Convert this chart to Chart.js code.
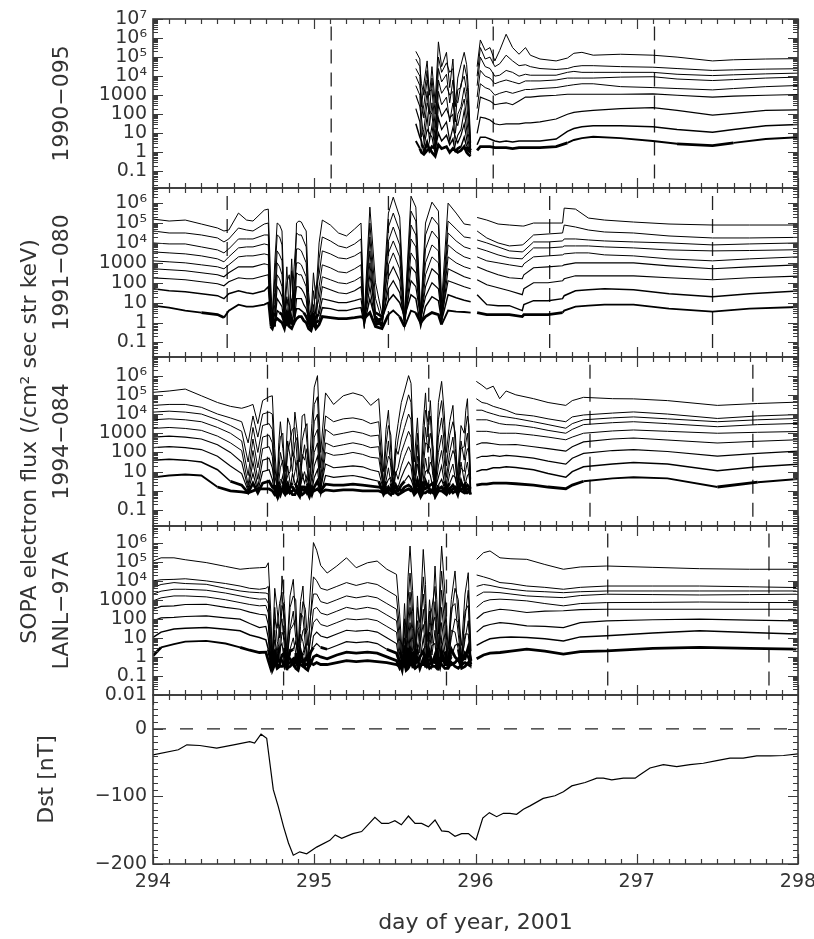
<!DOCTYPE html>
<html>
<head>
<meta charset="utf-8">
<script src="https://cdn.jsdelivr.net/npm/chart.js@4.4.1/dist/chart.umd.min.js"></script>
<style>
  body { margin: 0; background: #fff; }
  #wrap { position: relative; width: 814px; height: 939px; }
  #wrap canvas { position: absolute; left: 0; top: 0; }
</style>
</head>
<body>
<div id="wrap">
  <canvas id="p1" width="814" height="939"></canvas>
  <canvas id="p2" width="814" height="939"></canvas>
  <canvas id="p3" width="814" height="939"></canvas>
  <canvas id="p4" width="814" height="939"></canvas>
  <canvas id="p5" width="814" height="939"></canvas>
</div>
<script>
// ---- data (flux rows are log10 of the 9 energy channels, highest flux first; null = data gap) ----

// 1990-095
const p1Days = [295.63, 295.655, 295.665, 295.68, 295.70, 295.715, 295.73, 295.75, 295.77, 295.79, 295.82, 295.84,
  295.86, 295.875, 295.89, 295.91, 295.93, 295.945, 295.955, 295.97, 295.99,
  296.01, 296.03, 296.06, 296.09, 296.12, 296.15, 296.19, 296.23, 296.27, 296.31, 296.34, 296.40, 296.50, 296.57,
  296.61, 296.66, 296.73, 296.90, 297.10, 297.25, 297.47, 297.60, 297.80, 298.00];
const p1Flux = [
  [5.3, 4.9, 4.4, 4.0, 3.5, 3.0, 2.3, 1.5, 0.6],
  [4.9, 4.5, 4.0, 3.5, 3.0, 2.4, 1.6, 0.8, 0.2],
  [2.4, 3.6, 1.8, 2.8, 0.8, 1.8, 0.3, 0.6, 0.0],
  [3.6, 3.0, 2.5, 1.8, 1.2, 0.6, 0.3, 0.0, -0.1],
  [4.8, 4.3, 3.8, 3.2, 2.6, 1.9, 1.2, 0.5, 0.1],
  [3.0, 2.0, 3.2, 1.4, 2.2, 0.6, 1.0, 0.1, 0.2],
  [4.5, 3.9, 3.3, 2.6, 2.0, 1.4, 0.8, 0.3, 0.0],
  [2.6, 2.0, 1.3, 0.7, 0.3, 0.1, -0.1, 0.2, -0.2],
  [5.8, 5.0, 4.4, 3.8, 3.2, 2.5, 1.8, 1.0, 0.4],
  [4.5, 4.2, 3.7, 3.1, 2.5, 1.9, 1.2, 0.6, 0.2],
  [5.25, 4.7, 4.1, 3.5, 2.9, 2.3, 1.6, 0.9, 0.3],
  [3.4, 4.2, 2.6, 3.0, 1.6, 1.8, 0.6, 0.4, 0.0],
  [4.9, 4.4, 3.8, 3.2, 2.6, 2.0, 1.3, 0.7, 0.2],
  [2.4, 1.6, 2.8, 1.0, 1.8, 0.4, 0.8, 0.0, 0.1],
  [3.9, 3.3, 2.6, 2.0, 1.4, 0.9, 0.5, 0.2, 0.0],
  [4.6, 3.4, 3.6, 2.4, 2.2, 1.2, 0.9, 0.3, 0.1],
  [5.25, 4.6, 4.0, 3.4, 2.8, 2.2, 1.5, 0.8, 0.3],
  [4.6, 4.0, 3.2, 2.6, 1.8, 1.2, 0.7, 0.3, 0.0],
  [3.4, 2.8, 2.2, 1.6, 1.0, 0.6, 0.3, 0.1, -0.1],
  [0.5, 0.3, 0.1, 0.2, 0.0, -0.1, 0.1, 0.0, -0.2],
  null,
  [4.5, 4.0, 3.5, 2.9, 2.3, 1.7, 1.0, 0.4, 0.1],
  [5.9, 5.5, 5.0, 4.3, 3.6, 2.9, 1.85, 0.8, 0.3],
  [5.35, 4.9, 4.5, 4.0, 3.4, 2.8, 1.8, 0.8, 0.3],
  [5.5, 5.0, 4.4, 3.9, 3.3, 2.7, 1.7, 0.7, 0.3],
  [4.8, 4.5, 4.0, 3.6, 3.0, 2.5, 1.5, 0.6, 0.25],
  [5.35, 4.65, 4.05, 3.7, 3.1, 2.55, 1.45, 0.55, 0.25],
  [6.2, 5.1, 4.3, 3.8, 3.2, 2.6, 1.5, 0.6, 0.25],
  [5.5, 4.8, 4.2, 3.7, 3.1, 2.5, 1.5, 0.55, 0.2],
  [5.15, 4.55, 4.0, 3.6, 3.2, 2.7, 1.5, 0.6, 0.25],
  [5.5, 4.6, 4.1, 3.75, 3.3, 2.9, 1.55, 0.6, 0.25],
  [5.1, 4.5, 4.05, 3.75, 3.3, 2.9, 1.55, 0.6, 0.25],
  [4.9, 4.4, 4.05, 3.75, 3.35, 2.95, 1.6, 0.6, 0.25],
  [4.8, 4.35, 4.05, 3.8, 3.4, 3.0, 1.75, 0.7, 0.3],
  [4.95, 4.4, 4.2, 3.9, 3.5, 3.05, 2.0, 1.1, 0.5],
  [5.2, 4.5, 4.25, 3.9, 3.55, 3.05, 2.1, 1.25, 0.65],
  [5.25, 4.55, 4.2, 3.9, 3.6, 3.05, 2.15, 1.35, 0.75],
  [5.1, 4.55, 4.2, 3.9, 3.6, 3.05, 2.2, 1.4, 0.82],
  [5.15, 4.5, 4.2, 3.95, 3.45, 3.05, 2.3, 1.4, 0.75],
  [5.1, 4.47, 4.2, 3.97, 3.4, 3.07, 2.35, 1.35, 0.6],
  [5.0, 4.4, 4.1, 3.85, 3.35, 3.0, 2.2, 1.2, 0.45],
  [4.8, 4.3, 4.03, 3.77, 3.28, 2.9, 1.95, 1.05, 0.35],
  [4.86, 4.33, 4.07, 3.82, 3.35, 2.95, 2.05, 1.2, 0.5],
  [4.9, 4.37, 4.12, 3.9, 3.45, 3.0, 2.2, 1.4, 0.7],
  [4.92, 4.39, 4.16, 3.95, 3.51, 3.04, 2.23, 1.46, 0.79]
];

// 1991-080
const p2Days = [294.0, 294.1, 294.2, 294.3, 294.4, 294.44, 294.47, 294.53, 294.58, 294.62, 294.69,
  294.715, 294.73, 294.74, 294.755, 294.77, 294.785, 294.80, 294.815, 294.83, 294.845, 294.86, 294.875, 294.89,
  294.905, 294.92, 294.935, 294.95, 294.965, 294.98, 294.995, 295.01, 295.03,
  295.05, 295.10, 295.15, 295.20, 295.25, 295.29, 295.31, 295.345, 295.38, 295.42, 295.46, 295.49, 295.53, 295.56,
  295.60, 295.63, 295.66, 295.69, 295.73, 295.77, 295.79, 295.83, 295.88, 295.93, 295.97, 295.985,
  296.01, 296.07, 296.14, 296.21, 296.29, 296.30, 296.36, 296.45, 296.54, 296.55, 296.62, 296.70, 296.80, 296.98,
  297.20, 297.47, 297.70, 298.00];
const p2Flux = [
  [5.2, 4.6, 4.0, 3.55, 3.1, 2.7, 2.25, 1.7, 0.85],
  [5.1, 4.5, 3.95, 3.5, 3.05, 2.65, 2.2, 1.6, 0.75],
  [5.15, 4.5, 3.95, 3.45, 3.0, 2.6, 2.15, 1.55, 0.6],
  [4.95, 4.4, 3.8, 3.35, 2.9, 2.5, 2.05, 1.45, 0.5],
  [4.75, 4.25, 3.65, 3.2, 2.8, 2.4, 1.95, 1.35, 0.4],
  [4.6, 4.05, 3.5, 3.05, 2.7, 2.3, 1.85, 1.2, 0.25],
  [4.65, 4.2, 3.7, 3.3, 2.9, 2.5, 2.05, 1.45, 0.6],
  [5.5, 4.75, 4.2, 3.75, 3.3, 2.8, 2.25, 1.6, 0.9],
  [5.15, 4.65, 4.2, 3.8, 3.35, 2.8, 2.2, 1.5, 0.8],
  [5.1, 4.6, 4.2, 3.8, 3.35, 2.8, 2.2, 1.45, 0.8],
  [5.65, 4.95, 4.4, 3.95, 3.45, 2.95, 2.35, 1.6, 0.9],
  [5.7, 5.0, 4.4, 3.9, 3.4, 2.9, 2.4, 1.8, 1.0],
  [2.0, 1.3, 0.8, 0.4, 0.1, 0.3, -0.1, 0.2, -0.2],
  [0.3, 0.1, 0.0, -0.2, 0.2, -0.1, 0.0, 0.3, -0.3],
  [3.0, 2.2, 1.5, 0.9, 0.5, 0.2, 0.0, -0.2, 0.1],
  [5.0, 4.4, 3.6, 3.0, 2.4, 1.8, 1.2, 0.6, 0.2],
  [4.9, 4.3, 3.4, 2.8, 2.2, 1.6, 1.0, 0.5, 0.1],
  [4.6, 3.9, 3.1, 2.4, 1.8, 1.3, 0.8, 0.4, 0.0],
  [0.5, 0.2, 0.4, -0.1, 0.1, 0.3, -0.2, 0.0, -0.3],
  [2.8, 2.0, 1.3, 1.2, 0.5, 0.2, 0.1, -0.1, 0.3],
  [0.4, 2.4, 0.2, 0.8, -0.2, 0.5, 0.0, 0.2, -0.2],
  [3.2, 0.6, 2.6, 0.3, 1.2, -0.1, 0.2, 0.0, -0.3],
  [0.6, 2.8, 0.3, 1.8, 0.2, 0.7, -0.1, 0.1, 0.0],
  [5.0, 4.5, 3.7, 3.0, 2.5, 1.8, 1.2, 0.7, 0.2],
  [5.1, 4.4, 3.7, 3.0, 2.4, 1.8, 1.2, 0.7, 0.3],
  [5.05, 4.4, 3.6, 2.9, 2.4, 1.7, 1.2, 0.6, 0.3],
  [4.8, 4.1, 3.3, 2.6, 2.1, 1.5, 0.9, 0.5, 0.1],
  [4.6, 3.8, 3.0, 2.3, 1.8, 1.2, 0.7, 0.3, 0.0],
  [1.5, 0.8, 0.4, 0.1, 0.3, -0.1, 0.2, 0.0, -0.3],
  [0.3, -0.1, 0.2, -0.3, 0.0, 0.3, -0.2, 0.1, -0.4],
  [2.5, 1.6, 0.5, 0.9, 0.1, 0.4, -0.1, 0.2, 0.0],
  [1.2, 0.4, 1.8, 0.0, 0.6, -0.2, 0.3, 0.0, -0.3],
  [4.0, 3.2, 2.4, 1.8, 1.2, 0.7, 0.4, 0.1, -0.1],
  [5.15, 4.3, 3.6, 2.9, 2.3, 1.8, 1.2, 0.75, 0.3],
  [4.9, 4.1, 3.45, 2.75, 2.15, 1.65, 1.1, 0.7, 0.25],
  [4.5, 3.85, 3.25, 2.55, 2.0, 1.5, 1.0, 0.6, 0.2],
  [4.35, 3.75, 3.2, 2.5, 1.95, 1.45, 1.0, 0.6, 0.2],
  [4.7, 3.95, 3.35, 2.7, 2.1, 1.6, 1.1, 0.7, 0.25],
  [5.0, 4.2, 3.55, 2.9, 2.3, 1.8, 1.2, 0.75, 0.3],
  [0.3, 0.0, -0.2, 0.1, -0.3, 0.2, 0.0, -0.1, 0.2],
  [5.8, 5.0, 4.3, 3.6, 3.0, 2.4, 1.8, 1.2, 0.5],
  [2.0, 1.2, 0.5, 0.2, 0.0, 0.3, -0.1, 0.1, -0.2],
  [0.4, 0.1, 0.3, -0.1, 0.2, -0.2, 0.0, 0.2, -0.3],
  [5.5, 4.8, 4.1, 3.5, 2.9, 2.3, 1.7, 1.1, 0.4],
  [6.3, 5.5, 4.8, 4.1, 3.5, 2.8, 2.1, 1.4, 0.6],
  [5.3, 4.6, 3.9, 3.3, 2.7, 2.1, 1.5, 1.0, 0.3],
  [0.3, 0.1, -0.1, 0.2, 0.0, -0.2, 0.1, 0.3, -0.2],
  [6.35, 5.6, 4.9, 4.2, 3.5, 2.8, 2.1, 1.4, 0.6],
  [5.8, 5.1, 4.4, 3.8, 3.1, 2.5, 1.8, 1.2, 0.5],
  [0.5, 0.2, 0.0, 0.3, -0.1, 0.1, 0.2, -0.2, 0.0],
  [5.0, 4.4, 3.7, 3.0, 2.4, 1.8, 1.3, 0.8, 0.3],
  [6.05, 5.3, 4.6, 3.9, 3.3, 2.7, 2.0, 1.3, 0.5],
  [5.6, 4.9, 4.2, 3.6, 3.0, 2.4, 1.7, 1.1, 0.4],
  [1.0, 0.5, 0.3, 0.1, 0.2, 0.0, 0.3, 0.1, -0.1],
  [6.0, 5.1, 4.5, 3.9, 3.3, 2.7, 2.1, 1.4, 0.6],
  [5.5, 4.7, 4.1, 3.55, 3.0, 2.5, 1.95, 1.25, 0.55],
  [4.95, 4.3, 3.8, 3.3, 2.8, 2.3, 1.8, 1.12, 0.53],
  [4.9, 4.25, 3.7, 3.2, 2.7, 2.2, 1.7, 1.05, 0.5],
  null,
  [5.28, 4.6, 4.15, 3.75, 3.3, 2.8, 2.15, 1.4, 0.5],
  [5.15, 4.25, 4.0, 3.6, 3.1, 2.6, 1.9, 0.9, 0.4],
  [4.95, 4.0, 3.8, 3.4, 3.0, 2.4, 1.75, 0.85, 0.4],
  [4.9, 3.85, 3.6, 3.25, 2.9, 2.25, 1.6, 0.85, 0.4],
  [4.85, 3.9, 3.55, 3.2, 2.8, 2.2, 1.4, 0.6, 0.3],
  [4.85, 3.95, 3.6, 3.3, 2.95, 2.4, 1.7, 0.9, 0.4],
  [5.0, 4.4, 4.05, 3.75, 3.3, 2.75, 2.0, 1.1, 0.4],
  [5.0, 4.45, 4.05, 3.75, 3.35, 2.8, 2.0, 1.1, 0.4],
  [5.0, 4.5, 4.1, 3.8, 3.4, 2.85, 2.1, 1.2, 0.5],
  [5.75, 4.9, 4.2, 3.85, 3.45, 2.9, 2.2, 1.35, 0.6],
  [5.7, 4.8, 4.2, 3.85, 3.5, 3.0, 2.35, 1.6, 0.8],
  [5.25, 4.65, 4.15, 3.85, 3.5, 3.0, 2.35, 1.65, 0.85],
  [5.15, 4.55, 4.1, 3.8, 3.4, 3.0, 2.35, 1.7, 0.9],
  [5.05, 4.5, 4.05, 3.75, 3.35, 3.0, 2.35, 1.65, 0.9],
  [4.95, 4.35, 4.0, 3.65, 3.2, 2.85, 2.25, 1.45, 0.7],
  [4.9, 4.25, 3.9, 3.6, 3.1, 2.7, 2.15, 1.3, 0.55],
  [4.9, 4.25, 3.95, 3.62, 3.2, 2.8, 2.25, 1.45, 0.7],
  [4.9, 4.28, 4.0, 3.66, 3.3, 2.9, 2.33, 1.58, 0.78]
];

// 1994-084
const p3Days = [294.0, 294.1, 294.2, 294.3, 294.4, 294.48, 294.55, 294.59, 294.62, 294.65, 294.68, 294.72,
  294.74, 294.755, 294.77, 294.78, 294.79, 294.805, 294.82, 294.835, 294.85, 294.865, 294.88, 294.895, 294.91,
  294.925, 294.94, 294.955, 294.97, 294.985, 295.0, 295.02, 295.04, 295.07, 295.12, 295.18, 295.24, 295.30,
  295.35, 295.40, 295.43, 295.445, 295.46, 295.475, 295.49, 295.505, 295.52, 295.54, 295.56, 295.585, 295.60,
  295.62, 295.64, 295.66, 295.675, 295.69, 295.705, 295.72, 295.735, 295.75, 295.77, 295.79, 295.805, 295.82,
  295.84, 295.86, 295.875, 295.89, 295.91, 295.93, 295.94, 295.95, 295.96, 295.97, 295.985,
  296.005, 296.04, 296.07, 296.11, 296.15, 296.19, 296.25, 296.36, 296.45, 296.56, 296.60, 296.67, 296.85, 296.98,
  297.19, 297.50, 297.75, 298.0];
const p3Flux = [
  [5.13, 4.45, 4.1, 3.7, 3.25, 2.8, 2.25, 1.6, 0.7],
  [5.2, 4.5, 4.15, 3.75, 3.3, 2.85, 2.3, 1.65, 0.8],
  [5.3, 4.5, 4.1, 3.7, 3.25, 2.8, 2.25, 1.6, 0.85],
  [4.95, 4.35, 4.0, 3.6, 3.15, 2.7, 2.15, 1.5, 0.8],
  [4.6, 4.0, 3.7, 3.3, 2.85, 2.4, 1.8, 1.1, 0.2],
  [4.4, 3.8, 3.4, 3.0, 2.5, 2.0, 1.3, 0.5, 0.0],
  [4.3, 3.6, 3.1, 2.6, 2.1, 1.5, 0.9, 0.3, -0.05],
  [4.4, 2.5, 1.5, 0.8, 0.3, 0.1, 0.0, -0.1, -0.1],
  [4.5, 3.9, 3.3, 2.7, 2.1, 1.5, 0.9, 0.4, 0.0],
  [3.5, 2.8, 2.0, 1.2, 0.6, 0.2, 0.0, -0.1, 0.1],
  [4.7, 4.0, 3.4, 2.8, 2.2, 1.6, 1.0, 0.4, 0.1],
  [4.9, 4.1, 3.5, 2.9, 2.3, 1.7, 1.1, 0.5, 0.1],
  [4.95, 4.0, 3.2, 2.5, 1.8, 1.2, 0.6, 0.2, 0.0],
  [2.2, 1.4, 0.8, 0.3, 0.0, 0.2, -0.1, 0.1, -0.2],
  [0.3, 0.0, 0.2, -0.2, 0.1, 0.0, -0.3, 0.2, -0.1],
  [2.5, 1.8, 1.0, 0.5, 0.2, 0.0, 0.1, -0.2, 0.0],
  [3.6, 2.8, 2.0, 1.2, 0.6, 0.3, 0.0, 0.1, -0.2],
  [2.2, 3.0, 1.4, 1.6, 0.5, 0.8, 0.1, 0.0, 0.2],
  [1.0, 0.4, 0.1, 0.3, -0.1, 0.0, 0.2, -0.2, 0.1],
  [3.8, 2.0, 2.6, 0.8, 1.3, 0.2, 0.4, 0.0, -0.1],
  [3.4, 2.6, 1.8, 1.0, 0.4, 0.1, -0.1, 0.2, 0.0],
  [1.8, 3.2, 1.0, 2.1, 0.3, 0.9, 0.0, 0.2, -0.2],
  [4.1, 3.3, 2.5, 1.7, 1.0, 0.4, 0.1, 0.0, -0.2],
  [3.0, 1.5, 2.8, 0.7, 1.6, 0.2, 0.6, -0.1, 0.1],
  [1.5, 0.8, 0.3, 0.0, 0.2, -0.1, 0.1, -0.3, 0.0],
  [3.9, 2.6, 1.6, 1.9, 0.6, 0.9, 0.1, 0.2, -0.2],
  [4.0, 3.2, 2.4, 1.6, 1.0, 0.4, 0.0, 0.2, -0.1],
  [2.5, 3.5, 1.2, 2.2, 0.4, 0.8, 0.2, -0.1, 0.0],
  [1.2, 0.5, 0.2, -0.1, 0.1, 0.0, -0.2, 0.1, -0.3],
  [3.5, 2.2, 1.8, 0.9, 0.7, 0.3, 0.0, -0.2, 0.1],
  [5.4, 4.5, 3.6, 2.8, 2.0, 1.3, 0.7, 0.2, 0.0],
  [6.0, 4.9, 4.0, 3.2, 2.5, 1.8, 1.1, 0.5, 0.1],
  [2.0, 1.2, 0.6, 0.2, 0.0, 0.1, -0.2, 0.0, -0.1],
  [5.1, 3.9, 3.2, 2.5, 2.0, 1.4, 0.8, 0.35, 0.05],
  [4.5, 3.6, 2.9, 2.3, 1.85, 1.2, 0.7, 0.3, 0.0],
  [4.95, 3.75, 3.0, 2.4, 1.9, 1.25, 0.75, 0.3, 0.05],
  [5.1, 3.8, 3.1, 2.5, 2.0, 1.3, 0.8, 0.35, 0.05],
  [4.95, 3.7, 3.0, 2.4, 1.9, 1.25, 0.7, 0.3, 0.0],
  [4.45, 3.5, 2.85, 2.25, 1.75, 1.1, 0.6, 0.25, 0.0],
  [4.8, 3.6, 2.9, 2.3, 1.7, 1.0, 0.5, 0.2, 0.0],
  [1.0, 0.4, 0.2, -0.1, 0.1, 0.0, -0.2, 0.1, -0.1],
  [3.2, 2.4, 1.5, 1.1, 0.5, 0.3, 0.0, -0.1, 0.1],
  [4.2, 3.4, 2.6, 1.8, 1.2, 0.6, 0.2, 0.0, -0.1],
  [2.0, 2.9, 1.2, 1.6, 0.4, 0.7, 0.0, 0.1, -0.2],
  [0.8, 0.3, 0.0, 0.2, -0.2, 0.1, 0.0, -0.1, 0.1],
  [2.6, 1.8, 2.2, 0.9, 1.0, 0.2, 0.3, 0.0, -0.1],
  [3.5, 2.7, 1.9, 1.2, 0.6, 0.2, 0.0, 0.1, -0.2],
  [4.6, 3.6, 2.7, 2.0, 1.3, 0.7, 0.3, 0.0, -0.1],
  [5.2, 4.2, 3.3, 2.5, 1.8, 1.1, 0.5, 0.2, 0.0],
  [6.0, 5.0, 4.0, 3.1, 2.3, 1.5, 0.8, 0.3, 0.1],
  [5.6, 4.6, 3.7, 2.8, 2.0, 1.3, 0.6, 0.2, 0.0],
  [1.5, 0.8, 0.3, 0.0, 0.2, -0.1, 0.1, -0.2, 0.0],
  [3.8, 2.4, 3.0, 1.4, 1.8, 0.5, 0.7, 0.0, 0.1],
  [0.4, 0.1, -0.1, 0.2, 0.0, -0.2, 0.1, 0.0, -0.3],
  [3.4, 2.6, 1.7, 1.1, 0.5, 0.3, 0.0, 0.1, -0.1],
  [5.1, 4.2, 3.3, 2.5, 1.7, 1.0, 0.5, 0.1, -0.1],
  [2.8, 3.6, 2.0, 2.4, 0.9, 1.1, 0.2, 0.3, 0.0],
  [4.7, 3.9, 3.0, 2.2, 1.5, 0.8, 0.3, 0.0, -0.1],
  [2.4, 1.5, 2.3, 0.8, 1.2, 0.2, 0.4, -0.1, 0.1],
  [0.6, 0.2, 0.0, 0.2, -0.1, 0.1, -0.2, 0.0, -0.3],
  [4.6, 3.7, 2.8, 2.0, 1.3, 0.7, 0.3, 0.1, 0.0],
  [5.7, 4.7, 3.8, 2.9, 2.1, 1.3, 0.6, 0.2, 0.0],
  [4.2, 3.4, 2.6, 1.8, 1.1, 0.5, 0.2, 0.0, -0.1],
  [2.0, 1.3, 0.7, 0.3, 0.0, 0.1, -0.1, 0.2, -0.2],
  [3.6, 2.9, 2.0, 1.5, 0.9, 0.4, 0.1, -0.1, 0.1],
  [4.45, 3.6, 2.8, 2.1, 1.4, 0.8, 0.3, 0.1, -0.1],
  [2.2, 3.0, 1.4, 1.8, 0.6, 0.7, 0.1, 0.2, 0.0],
  [0.8, 0.3, 0.1, -0.1, 0.2, 0.0, -0.2, 0.1, -0.1],
  [3.4, 2.2, 2.6, 1.2, 1.5, 0.4, 0.5, 0.0, 0.1],
  [3.0, 2.3, 1.6, 1.0, 0.5, 0.2, 0.0, -0.1, 0.1],
  [4.2, 3.3, 2.5, 1.8, 1.1, 0.5, 0.2, 0.0, -0.1],
  [4.8, 3.9, 3.0, 2.2, 1.5, 0.8, 0.3, 0.1, -0.1],
  [2.6, 3.4, 1.8, 2.0, 0.8, 0.9, 0.2, 0.1, 0.0],
  [0.6, 0.2, 0.0, 0.1, -0.1, 0.0, 0.1, -0.2, 0.0],
  null,
  [5.7, 4.8, 4.2, 3.7, 3.1, 2.4, 1.7, 1.0, 0.3],
  [5.5, 4.6, 4.2, 3.7, 3.1, 2.5, 1.8, 1.1, 0.35],
  [5.3, 4.55, 4.1, 3.7, 3.1, 2.5, 1.8, 1.1, 0.35],
  [5.45, 4.4, 4.0, 3.6, 3.05, 2.45, 1.85, 1.2, 0.4],
  [4.8, 4.3, 3.9, 3.5, 3.0, 2.4, 1.8, 1.2, 0.4],
  [5.2, 4.2, 3.85, 3.45, 3.0, 2.4, 1.85, 1.25, 0.4],
  [5.0, 4.0, 3.77, 3.43, 3.0, 2.41, 1.81, 1.22, 0.37],
  [4.8, 3.9, 3.6, 3.3, 2.9, 2.3, 1.7, 1.1, 0.3],
  [4.6, 3.75, 3.45, 3.15, 2.8, 2.2, 1.55, 0.9, 0.2],
  [4.45, 3.6, 3.26, 3.0, 2.66, 2.07, 1.39, 0.71, 0.11],
  [4.7, 3.85, 3.5, 3.2, 2.8, 2.3, 1.7, 1.0, 0.3],
  [4.87, 3.95, 3.7, 3.45, 3.0, 2.55, 1.95, 1.25, 0.5],
  [4.8, 4.05, 3.8, 3.55, 3.12, 2.7, 2.1, 1.4, 0.65],
  [4.79, 4.11, 3.85, 3.6, 3.17, 2.75, 2.15, 1.47, 0.71],
  [4.7, 4.0, 3.75, 3.5, 3.1, 2.65, 2.05, 1.4, 0.65],
  [4.45, 3.77, 3.6, 3.34, 3.0, 2.49, 1.81, 1.05, 0.2],
  [4.55, 3.9, 3.7, 3.45, 3.05, 2.58, 1.95, 1.25, 0.45],
  [4.62, 3.97, 3.77, 3.51, 3.09, 2.66, 2.07, 1.39, 0.62]
];

// LANL-97A
const p4Days = [294.0, 294.05, 294.13, 294.2, 294.33, 294.45, 294.54, 294.6, 294.66, 294.70,
  294.715, 294.73, 294.74, 294.755, 294.77, 294.785, 294.80, 294.815, 294.83, 294.85, 294.87, 294.885, 294.90,
  294.915, 294.93, 294.945, 294.96, 294.975, 294.995, 295.015, 295.04, 295.08, 295.14, 295.20, 295.26, 295.33,
  295.39, 295.45, 295.51, 295.53, 295.545, 295.56, 295.57, 295.582, 295.594, 295.61, 295.625, 295.64, 295.655,
  295.676, 295.69, 295.70, 295.715, 295.73, 295.749, 295.76, 295.77, 295.78, 295.79, 295.81, 295.83, 295.85,
  295.873, 295.893, 295.914, 295.935, 295.955, 295.972, 295.99,
  296.007, 296.05, 296.09, 296.152, 296.22, 296.318, 296.43, 296.545, 296.65, 296.814, 297.1, 297.39, 297.7, 297.99];
const p4Flux = [
  [5.03, 3.99, 3.64, 3.29, 2.94, 2.5, 1.89, 1.02, 0.06],
  [5.2, 4.05, 3.8, 3.45, 3.1, 2.65, 2.05, 1.3, 0.5],
  [5.2, 4.07, 3.9, 3.55, 3.2, 2.68, 2.07, 1.46, 0.67],
  [5.1, 4.1, 3.85, 3.55, 3.2, 2.75, 2.12, 1.5, 0.8],
  [4.95, 3.99, 3.81, 3.5, 3.15, 2.76, 2.15, 1.54, 0.84],
  [4.75, 3.85, 3.6, 3.35, 3.0, 2.6, 2.05, 1.45, 0.7],
  [4.6, 3.72, 3.46, 3.2, 2.85, 2.5, 1.98, 1.37, 0.5],
  [4.65, 3.6, 3.4, 3.1, 2.75, 2.35, 1.75, 1.15, 0.35],
  [4.68, 3.55, 3.37, 3.03, 2.68, 2.24, 1.54, 1.02, 0.23],
  [4.7, 3.6, 3.35, 3.05, 2.7, 2.2, 1.6, 0.9, 0.25],
  [4.94, 3.7, 3.3, 2.8, 2.3, 1.7, 1.0, 0.4, -0.2],
  [2.4, 1.6, 0.9, 0.3, -0.1, -0.3, -0.5, -0.2, -0.6],
  [0.0, -0.4, -0.2, -0.6, -0.3, -0.5, 0.1, -0.7, -0.3],
  [3.6, 2.0, 2.6, 0.9, 1.4, 0.1, 0.3, -0.4, -0.2],
  [2.5, 1.5, 0.8, 0.2, -0.3, -0.2, -0.5, -0.1, -0.6],
  [1.0, 2.8, 0.4, 1.6, -0.1, 0.5, -0.4, -0.2, -0.5],
  [4.25, 3.4, 2.7, 2.0, 1.3, 0.7, 0.1, -0.2, -0.5],
  [2.8, 1.4, 2.2, 0.5, 1.0, -0.2, 0.2, -0.5, -0.3],
  [0.3, -0.2, -0.5, -0.1, -0.7, -0.3, -0.4, 0.0, -0.6],
  [3.2, 2.6, 1.5, 1.4, 0.4, 0.3, -0.3, -0.1, -0.5],
  [4.07, 3.2, 2.4, 1.7, 1.0, 0.4, -0.1, -0.4, -0.3],
  [1.9, 3.0, 1.0, 2.0, 0.2, 0.8, -0.3, 0.0, -0.6],
  [0.5, 0.0, -0.4, -0.2, -0.6, 0.1, -0.5, -0.3, -0.7],
  [2.9, 1.6, 2.3, 0.7, 1.2, -0.1, 0.3, -0.4, -0.2],
  [3.72, 2.9, 2.1, 1.4, 0.8, 0.2, -0.2, -0.5, -0.3],
  [1.2, 2.5, 0.6, 1.5, 0.0, 0.6, -0.4, -0.1, -0.6],
  [1.5, 0.6, 0.0, -0.3, -0.1, -0.6, -0.4, -0.2, -0.7],
  [3.4, 1.9, 2.0, 0.8, 0.9, -0.1, 0.2, -0.4, -0.3],
  [6.0, 4.2, 3.3, 2.5, 1.8, 1.1, 0.5, 0.0, -0.4],
  [5.6, 4.0, 3.3, 2.6, 2.0, 1.3, 0.7, 0.1, -0.3],
  [4.8, 3.6, 2.9, 2.3, 1.7, 1.1, 0.5, 0.0, -0.4],
  [4.4, 3.5, 2.8, 2.2, 1.6, 1.0, 0.4, -0.1, -0.4],
  [4.77, 3.7, 3.0, 2.4, 1.8, 1.2, 0.6, 0.1, -0.3],
  [5.2, 3.9, 3.2, 2.6, 2.0, 1.4, 0.8, 0.25, -0.2],
  [4.68, 3.75, 3.1, 2.5, 1.95, 1.35, 0.75, 0.2, -0.25],
  [4.94, 3.9, 3.2, 2.6, 2.0, 1.4, 0.8, 0.25, -0.2],
  [5.03, 3.8, 3.1, 2.5, 1.9, 1.3, 0.7, 0.2, -0.25],
  [4.6, 3.5, 2.8, 2.2, 1.6, 1.0, 0.4, 0.0, -0.3],
  [4.33, 3.2, 2.5, 1.9, 1.3, 0.7, 0.2, -0.2, -0.4],
  [2.2, 1.4, 0.8, 0.3, -0.2, -0.4, -0.3, -0.6, -0.5],
  [0.2, -0.3, -0.6, -0.2, -0.5, -0.1, -0.7, -0.4, -0.2],
  [2.8, 1.6, 2.0, 0.6, 1.0, -0.2, 0.2, -0.5, -0.3],
  [1.0, 0.2, -0.4, -0.1, -0.6, -0.3, -0.2, -0.5, -0.7],
  [4.2, 3.0, 2.0, 1.2, 0.5, 0.0, -0.3, -0.4, -0.6],
  [5.82, 4.4, 3.4, 2.6, 1.8, 1.1, 0.4, -0.1, -0.4],
  [3.5, 2.4, 1.5, 0.9, 0.3, -0.1, -0.3, -0.5, -0.4],
  [0.5, -0.2, -0.5, -0.1, -0.3, -0.6, -0.2, -0.4, -0.6],
  [2.6, 3.2, 1.4, 1.9, 0.4, 0.6, -0.2, -0.1, -0.5],
  [1.8, 0.8, 1.6, 0.2, 0.8, -0.3, 0.0, -0.6, -0.4],
  [5.64, 4.2, 3.3, 2.5, 1.7, 1.0, 0.3, -0.1, -0.4],
  [3.8, 2.8, 1.9, 1.2, 0.6, 0.1, -0.2, -0.5, -0.3],
  [0.8, 0.0, -0.3, -0.6, -0.2, -0.4, -0.1, -0.5, -0.3],
  [3.0, 1.8, 2.4, 0.9, 1.3, -0.1, 0.3, -0.4, -0.6],
  [1.4, 2.6, 0.7, 1.6, 0.1, 0.6, -0.4, -0.2, -0.5],
  [4.77, 3.7, 2.9, 2.1, 1.4, 0.7, 0.1, -0.3, -0.5],
  [3.0, 1.8, 1.2, 0.5, 0.0, -0.3, -0.5, -0.2, -0.6],
  [1.2, 0.4, -0.2, -0.5, -0.1, -0.4, -0.6, -0.2, -0.3],
  [4.2, 3.2, 2.2, 1.3, 0.6, 0.0, -0.3, -0.5, -0.4],
  [5.82, 4.5, 3.5, 2.6, 1.8, 1.0, 0.3, -0.1, -0.4],
  [3.4, 2.4, 1.6, 0.9, 0.3, -0.2, -0.4, -0.3, -0.6],
  [0.4, -0.1, -0.5, -0.2, -0.6, -0.3, -0.4, -0.1, -0.6],
  [3.0, 2.2, 2.6, 1.0, 1.4, 0.0, 0.4, -0.4, -0.3],
  [4.51, 3.6, 2.8, 2.0, 1.3, 0.6, 0.0, -0.3, -0.5],
  [2.0, 3.0, 1.2, 1.8, 0.4, 0.7, -0.2, -0.1, -0.6],
  [0.6, 0.0, -0.4, -0.2, -0.5, -0.1, -0.3, -0.6, -0.4],
  [3.3, 2.0, 2.4, 0.9, 1.2, -0.1, 0.2, -0.5, -0.3],
  [4.42, 3.5, 2.7, 1.9, 1.2, 0.5, 0.0, -0.3, -0.4],
  [0.3, -0.2, -0.5, -0.3, -0.6, -0.2, -0.4, -0.1, -0.5],
  null,
  [5.12, 4.3, 3.7, 3.2, 2.6, 2.0, 1.3, 0.6, -0.1],
  [5.47, 4.2, 3.8, 3.4, 2.9, 2.3, 1.6, 0.8, 0.1],
  [5.56, 4.1, 3.75, 3.4, 3.0, 2.4, 1.7, 0.95, 0.2],
  [5.2, 3.9, 3.64, 3.37, 3.03, 2.5, 1.8, 1.02, 0.23],
  [5.15, 3.85, 3.55, 3.3, 3.0, 2.45, 1.75, 1.05, 0.3],
  [5.12, 3.72, 3.46, 3.2, 2.94, 2.33, 1.63, 1.02, 0.41],
  [4.85, 3.65, 3.42, 3.15, 2.8, 2.4, 1.6, 0.95, 0.3],
  [4.6, 3.55, 3.37, 3.11, 2.68, 2.42, 1.54, 0.84, 0.15],
  [4.72, 3.65, 3.42, 3.22, 2.8, 2.48, 1.8, 1.05, 0.28],
  [4.77, 3.72, 3.46, 3.29, 2.85, 2.5, 1.89, 1.11, 0.32],
  [4.7, 3.72, 3.46, 3.27, 2.86, 2.5, 1.95, 1.25, 0.45],
  [4.63, 3.72, 3.46, 3.25, 2.88, 2.5, 1.98, 1.37, 0.5],
  [4.6, 3.68, 3.46, 3.27, 2.86, 2.5, 1.93, 1.28, 0.45],
  [4.6, 3.64, 3.46, 3.29, 2.85, 2.5, 1.89, 1.2, 0.41]
];

// Dst index
const dstDays = [294.0, 294.157, 294.21, 294.29, 294.395, 294.5, 294.6, 294.63, 294.67, 294.705, 294.746, 294.777,
  294.81, 294.84, 294.87, 294.91, 294.953, 295.015, 295.097, 295.13, 295.17, 295.24, 295.294, 295.376, 295.418,
  295.46, 295.5, 295.54, 295.584, 295.625, 295.666, 295.708, 295.749, 295.79, 295.832, 295.873, 295.914, 295.956,
  296.003, 296.045, 296.086, 296.131, 296.173, 296.214, 296.255, 296.297, 296.338, 296.42, 296.493, 296.545,
  296.597, 296.68, 296.752, 296.793, 296.845, 296.917, 296.99, 297.02, 297.082, 297.165, 297.248, 297.33, 297.413,
  297.496, 297.578, 297.66, 297.744, 297.83, 297.91, 298.0];
const dstValues = [-38.5, -31, -23.7, -24.7, -28.6, -23.7, -19, -21, -8, -14, -90, -115,
  -145, -169, -187, -182, -185, -175, -165, -157, -162, -155, -152, -131, -140,
  -140, -136, -142, -129, -140, -140, -145, -135, -151, -152, -159, -155, -155,
  -164.5, -132, -124, -130, -125, -125, -126.5, -119, -114, -103, -99, -93,
  -84.5, -79.5, -73, -73, -75.5, -73, -73, -68, -58, -53, -56, -53, -51,
  -47, -43.5, -43.5, -40, -40, -39.5, -37];

// dashed vertical markers per spacecraft
const p1Marks = [295.105, 296.11, 297.11];
const p2Marks = [294.46, 295.46, 296.46, 297.47];
const p3Marks = [294.71, 295.71, 296.71, 297.72];
const p4Marks = [294.81, 295.82, 296.82, 297.82];

// ---- drawing ----
const FONT = 'DejaVu Sans';
const INK = '#333';
const chWidth = [1, 1, 1, 1, 1, 1.1, 1.2, 1.5, 1.9];
const SUP = {4: '\u2074', 5: '\u2075', 6: '\u2076', 7: '\u2077'};

function logLabel(v) {
  const n = Math.round(Math.log10(v));
  if (n >= 4) return '10' + SUP[n];
  if (n >= 0) return String(Math.pow(10, n));
  return n === -1 ? '0.1' : '0.01';
}

// box and inward tick marks
const framePlugin = {
  id: 'frame',
  afterDatasetsDraw(chart) {
    const {ctx, chartArea: a} = chart;
    const xs = chart.scales.x, ys = chart.scales.y;
    ctx.save();
    ctx.strokeStyle = '#3a3a3a';
    ctx.lineWidth = 1.2;
    ctx.beginPath();
    for (let k = 0; k <= 40; k++) {
      const px = Math.round(xs.getPixelForValue(294 + k / 10)) + 0.5;
      const len = k % 10 === 0 ? 10 : 5;
      ctx.moveTo(px, a.top); ctx.lineTo(px, a.top + len);
      ctx.moveTo(px, a.bottom); ctx.lineTo(px, a.bottom - len);
    }
    const marks = [];
    if (ys.type === 'logarithmic') {
      for (let d = Math.floor(Math.log10(ys.min)); d <= Math.ceil(Math.log10(ys.max)); d++) {
        for (let m = 1; m <= 9; m++) {
          const v = m * Math.pow(10, d);
          if (v >= ys.min * 0.999 && v <= ys.max * 1.001) marks.push([v, m === 1]);
        }
      }
    } else {
      for (let v = -200; v <= 50; v += 10) marks.push([v, v % 100 === 0]);
    }
    marks.forEach(([v, major]) => {
      const py = Math.round(ys.getPixelForValue(v)) + 0.5;
      const len = major ? 10 : 5;
      ctx.moveTo(a.left, py); ctx.lineTo(a.left + len, py);
      ctx.moveTo(a.right, py); ctx.lineTo(a.right - len, py);
    });
    ctx.stroke();
    ctx.lineWidth = 1.6;
    ctx.strokeRect(a.left, a.top, a.right - a.left, a.bottom - a.top);
    ctx.restore();
  }
};

// low-flux stretches are noisy and print as a heavy band
const lowBand = c => (c.p0.parsed.y < 3.2 && c.p1.parsed.y < 3.2 ? 2.8 : undefined);

function fluxChart(id, days, rows, marks, logMin, logMax, title, top, bottom, titlePad) {
  const datasets = [];
  for (let ch = 0; ch < 9; ch++) {
    datasets.push({
      data: days.map((d, i) => ({x: d, y: rows[i] ? Math.pow(10, rows[i][ch]) : null})),
      borderColor: '#000', borderWidth: chWidth[ch], pointRadius: 0,
      segment: {borderWidth: lowBand}
    });
  }
  marks.forEach(d => datasets.push({
    data: [{x: d, y: Math.pow(10, logMax - 0.4)}, {x: d, y: Math.pow(10, logMin + 0.3)}],
    borderColor: '#222', borderWidth: 1.3, borderDash: [14, 9], pointRadius: 0
  }));
  new Chart(document.getElementById(id), {
    type: 'line',
    data: {datasets},
    options: {
      responsive: false, animation: false, events: [],
      layout: {autoPadding: false, padding: {left: 0, right: 16, top: top, bottom: 939 - bottom}},
      plugins: {legend: {display: false}, tooltip: {enabled: false}},
      scales: {
        x: {type: 'linear', min: 294, max: 298, bounds: 'data', display: false},
        y: {
          type: 'logarithmic', min: Math.pow(10, logMin), max: Math.pow(10, logMax), bounds: 'data',
          afterFit: s => { s.width = 153; s.paddingTop = 0; s.paddingBottom = 0; },
          afterBuildTicks: s => {
            const t = [];
            for (let n = Math.ceil(logMin - 1e-9); n <= Math.floor(logMax + 1e-9); n++) t.push({value: Math.pow(10, n)});
            s.ticks = t;
          },
          ticks: {callback: v => logLabel(v), font: {family: FONT, size: 19}, color: INK, padding: 6, autoSkip: false},
          grid: {display: false, drawTicks: false},
          border: {display: false},
          title: {display: true, text: title, color: INK,
                  font: {family: FONT, size: 22, lineHeight: 32 / 22}, padding: {top: titlePad, bottom: 0}}
        }
      }
    },
    plugins: [framePlugin]
  });
}

fluxChart('p1', p1Days, p1Flux, p1Marks, -1.87, 7.0, '1990\u2212095', 19, 188, 46);
fluxChart('p2', p2Days, p2Flux, p2Marks, -1.73, 6.76, '1991\u2212080', 188, 357, 46);
fluxChart('p3', p3Days, p3Flux, p3Marks, -1.83, 6.97,
  ['SOPA electron flux (/cm\u00b2 sec str keV)', '1994\u2212084'], 357, 526, 14);
fluxChart('p4', p4Days, p4Flux, p4Marks, -2, 6.87, 'LANL\u221297A', 526, 695, 46);

// Dst panel with the day axis
new Chart(document.getElementById('p5'), {
  type: 'line',
  data: {
    datasets: [
      {data: dstDays.map((d, i) => ({x: d, y: dstValues[i]})), borderColor: '#000', borderWidth: 1.2, pointRadius: 0},
      {data: [{x: 294, y: 0}, {x: 298, y: 0}], borderColor: '#222', borderWidth: 1.3, borderDash: [13, 14], pointRadius: 0}
    ]
  },
  options: {
    responsive: false, animation: false, events: [],
    layout: {autoPadding: false, padding: {left: 0, right: 16, top: 695, bottom: 0}},
    plugins: {legend: {display: false}, tooltip: {enabled: false}},
    scales: {
      x: {
        type: 'linear', min: 294, max: 298, bounds: 'data',
        afterFit: s => { s.height = 75; s.paddingLeft = 0; s.paddingRight = 0; },
        afterBuildTicks: s => { s.ticks = [294, 295, 296, 297, 298].map(v => ({value: v})); },
        ticks: {callback: v => String(v), font: {family: FONT, size: 19}, color: INK, padding: 7, maxRotation: 0, autoSkip: false},
        grid: {display: false, drawTicks: false},
        border: {display: false},
        title: {display: true, text: 'day of year, 2001', color: INK, font: {family: FONT, size: 22}, padding: {top: 0, bottom: 3}}
      },
      y: {
        type: 'linear', min: -200, max: 50, bounds: 'data',
        afterFit: s => { s.width = 153; s.paddingTop = 0; s.paddingBottom = 0; },
        afterBuildTicks: s => { s.ticks = [-200, -100, 0].map(v => ({value: v})); },
        ticks: {callback: v => (v < 0 ? '\u2212' + Math.abs(v) : String(v)), font: {family: FONT, size: 19}, color: INK, padding: 6, autoSkip: false},
        grid: {display: false, drawTicks: false},
        border: {display: false},
        title: {display: true, text: 'Dst [nT]', color: INK,
                font: {family: FONT, size: 22, lineHeight: 32 / 22}, padding: {top: 31, bottom: 0}}
      }
    }
  },
  plugins: [framePlugin]
});
</script>
</body>
</html>
